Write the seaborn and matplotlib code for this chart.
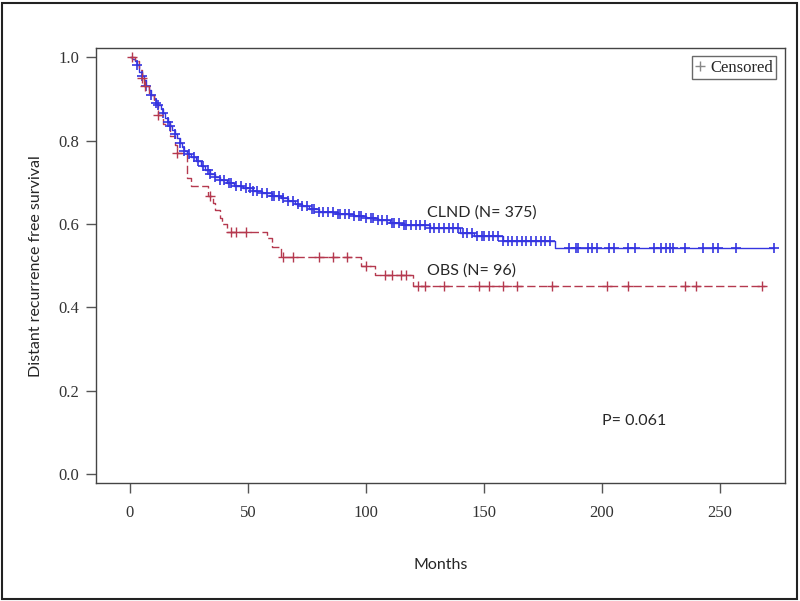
import numpy as np
import pandas as pd
import matplotlib
matplotlib.use("Agg")
import matplotlib.pyplot as plt
import seaborn as sns
from matplotlib.lines import Line2D
from matplotlib.patches import Rectangle

# Kaplan-Meier step curves (months, survival)
clnd_time = [0, 1, 2, 3, 4, 5, 6, 7, 8, 9, 10, 11, 12, 13, 14, 15, 16, 17, 18, 19,
             20, 21, 22, 23, 24, 26, 28, 30, 32, 34, 36, 38, 41, 44, 48, 52, 56, 60,
             64, 67, 70, 73, 76, 80, 88, 95, 100, 105, 110, 116, 127, 140, 146, 158,
             180, 273]
clnd_surv = [1.0, 0.995, 0.99, 0.98, 0.965, 0.955, 0.945, 0.93, 0.92, 0.91, 0.90,
             0.89, 0.885, 0.875, 0.865, 0.855, 0.845, 0.835, 0.825, 0.815, 0.805,
             0.795, 0.785, 0.775, 0.768, 0.76, 0.752, 0.74, 0.73, 0.72, 0.712, 0.705,
             0.698, 0.692, 0.686, 0.68, 0.674, 0.668, 0.662, 0.655, 0.648, 0.642,
             0.636, 0.628, 0.625, 0.62, 0.615, 0.61, 0.603, 0.598, 0.59, 0.578,
             0.572, 0.56, 0.543, 0.543]
clnd_censor = [3, 5, 7, 9, 11, 12, 14, 16, 17, 19, 21, 23, 25, 27, 29, 31, 33, 34,
               36, 38, 40, 42, 43, 45, 47, 49, 51, 52, 54, 56, 58, 60, 61, 63, 65,
               67, 69, 71, 73, 75, 77, 78, 80, 82, 84, 86, 88, 89, 91, 93, 95, 97,
               98, 100, 102, 103, 105, 107, 109, 111, 112, 114, 116, 117, 119, 121,
               123, 125, 127, 129, 131, 133, 135, 137, 139, 141, 143, 145, 147, 149,
               150, 152, 154, 156, 158, 160, 162, 164, 166, 168, 170, 172, 174, 176,
               178, 186, 189, 190, 194, 196, 198, 203, 205, 211, 214, 222, 225, 227,
               229, 230, 235, 243, 247, 249, 257, 273]

obs_time = [0, 2, 4, 5, 6, 8, 10, 12, 14, 17, 19, 20, 24, 26, 33, 35, 36, 38, 39,
            41, 58, 60, 64, 98, 104, 120, 269]
obs_surv = [1.0, 0.99, 0.97, 0.95, 0.93, 0.91, 0.89, 0.86, 0.84, 0.81, 0.79, 0.77,
            0.71, 0.69, 0.667, 0.65, 0.633, 0.615, 0.60, 0.58, 0.566, 0.545, 0.52,
            0.50, 0.477, 0.45, 0.45]
obs_censor = [1, 5, 6.5, 12, 20, 34, 43, 45, 49, 65, 69, 80, 86, 92, 100, 108, 111,
              115, 117, 122, 125, 133, 148, 152, 158, 164, 179, 202, 211, 235, 240, 268]

blue = "#3535e0"
red = "#b5394f"


def surv_at(times, surv, t):
    idx = np.searchsorted(times, t, side="right") - 1
    return np.array(surv)[idx]


curves = pd.concat([
    pd.DataFrame({"Months": clnd_time, "S": clnd_surv, "arm": "CLND"}),
    pd.DataFrame({"Months": obs_time, "S": obs_surv, "arm": "OBS"}),
])
cens = pd.concat([
    pd.DataFrame({"Months": clnd_censor,
                  "S": surv_at(clnd_time, clnd_surv, clnd_censor), "arm": "CLND"}),
    pd.DataFrame({"Months": obs_censor,
                  "S": surv_at(obs_time, obs_surv, obs_censor), "arm": "OBS"}),
])

sns.set_style("ticks")
fig = plt.figure(figsize=(8, 6.01), dpi=100)
ax = fig.add_axes([0.12, 0.196, 0.861, 0.724])

sns.lineplot(data=curves[curves.arm == "CLND"], x="Months", y="S", color=blue,
             drawstyle="steps-post", estimator=None, lw=1.0, ax=ax)
sns.lineplot(data=curves[curves.arm == "OBS"], x="Months", y="S", color=red,
             drawstyle="steps-post", estimator=None, lw=1.0, ax=ax,
             dashes=False)
ax.lines[-1].set_dashes((6, 2.5))
sns.scatterplot(data=cens[cens.arm == "CLND"], x="Months", y="S", marker="+",
                color=blue, s=50, linewidth=1.2, ax=ax, zorder=3)
sns.scatterplot(data=cens[cens.arm == "OBS"], x="Months", y="S", marker="+",
                color=red, s=45, linewidth=1.0, ax=ax, zorder=3)

ax.set_xlim(-14.4, 277.5)
ax.set_ylim(-0.0216, 1.0216)
ax.set_xticks([0, 50, 100, 150, 200, 250])
ax.set_yticks([0.0, 0.2, 0.4, 0.6, 0.8, 1.0])
ax.set_yticklabels(["0.0", "0.2", "0.4", "0.6", "0.8", "1.0"])
for lab in ax.get_xticklabels() + ax.get_yticklabels():
    lab.set_fontfamily("Liberation Serif")
    lab.set_fontsize(12)
    lab.set_color("#333333")
ax.tick_params(length=7, width=1, color="#555555", direction="out", pad=5)
ax.tick_params(axis="x", pad=9)
for sp in ax.spines.values():
    sp.set_color("#444444")
    sp.set_linewidth(1)

ax.set_xlabel("Months", fontfamily="Lato", fontsize=11.5, labelpad=26)
ax.set_ylabel("Distant recurrence free survival", fontfamily="Lato",
              fontsize=11.5, labelpad=11)

ax.text(126, 0.628, "CLND (N= 375)", fontfamily="Lato", fontsize=11.5,
        va="center", ha="left")
ax.text(126, 0.489, "OBS (N= 96)", fontfamily="Lato", fontsize=11.5,
        va="center", ha="left")
ax.text(200, 0.127, "P= 0.061", fontfamily="Lato", fontsize=11.5,
        va="center", ha="left")

handle = Line2D([], [], marker="+", color="#888888", ls="none", markersize=7)
leg = ax.legend([handle], ["Censored"], loc="upper right",
                prop={"family": "Liberation Serif", "size": 12},
                frameon=True, fancybox=False, handlelength=0.6,
                handletextpad=0.3, borderpad=0.2, borderaxespad=0.5)
leg.get_frame().set_edgecolor("#444444")
leg.get_frame().set_linewidth(1)

fig.patches.append(Rectangle((0.003, 0.004), 0.993, 0.991, transform=fig.transFigure,
                             fill=False, edgecolor="#222222", linewidth=1.5))

fig.savefig("out.png", dpi=100)
